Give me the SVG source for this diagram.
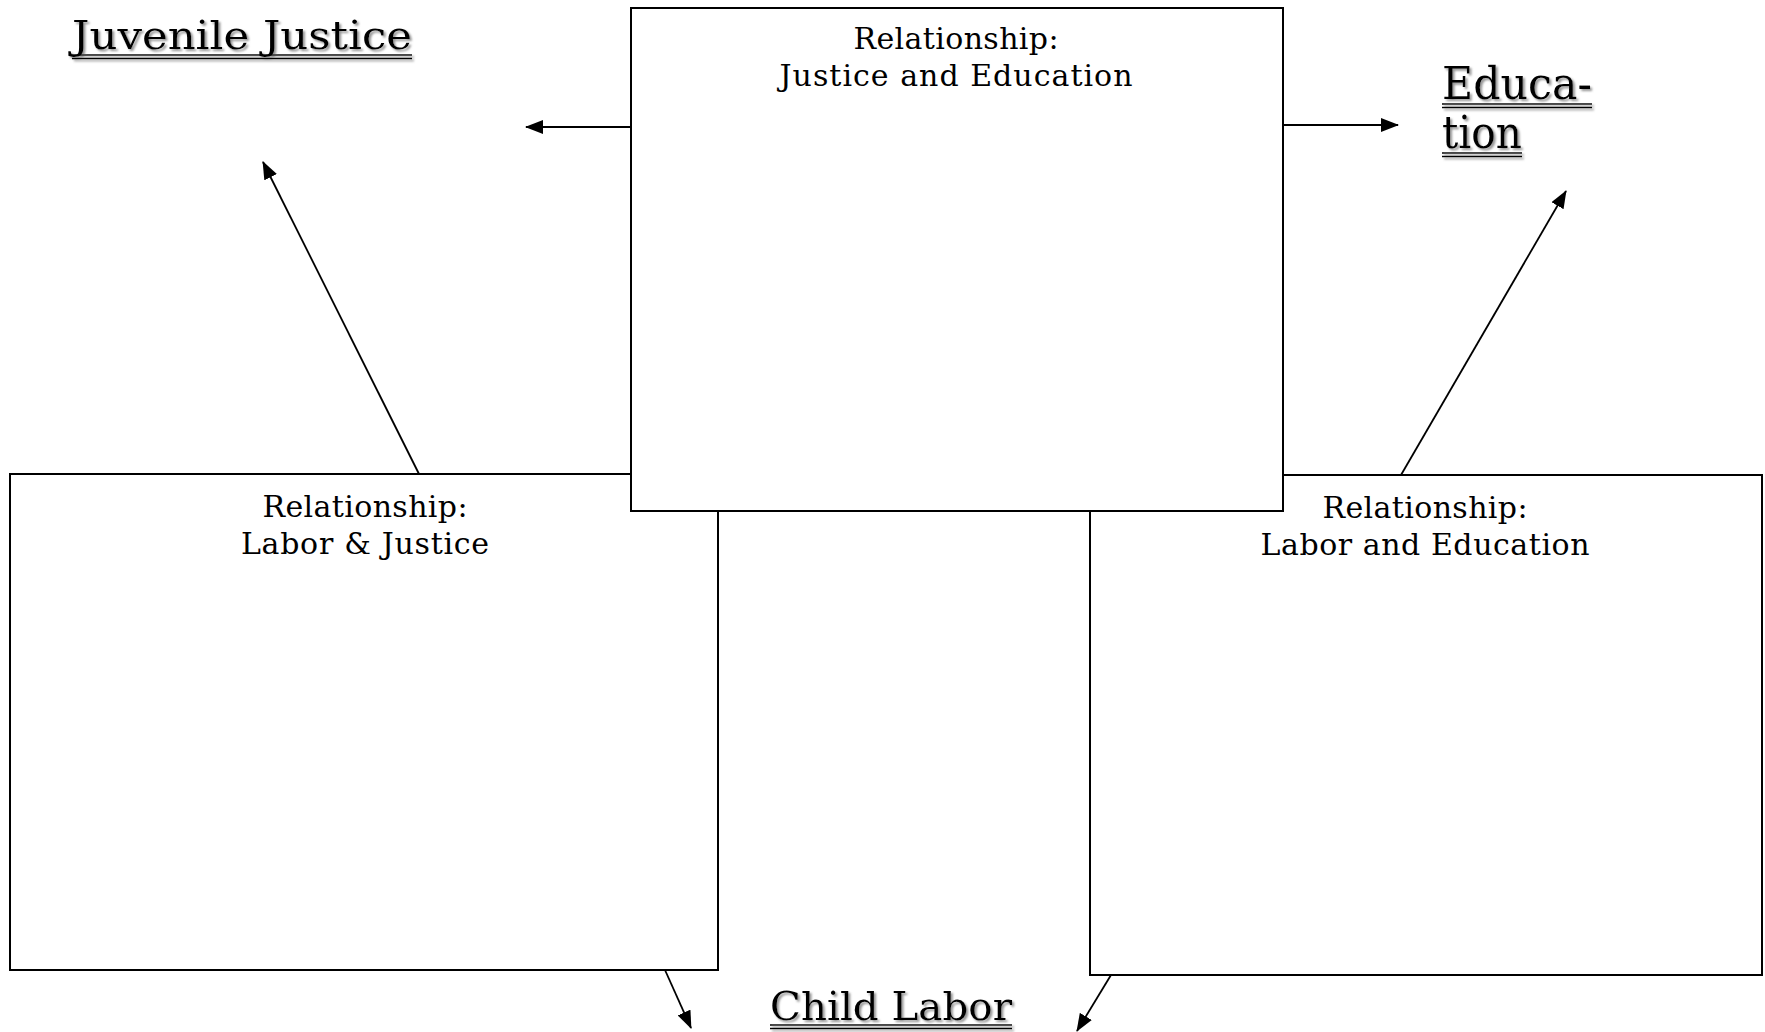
<svg xmlns="http://www.w3.org/2000/svg" width="1765" height="1032" viewBox="0 0 1765 1032">
<style>
.box{fill:#fff;stroke:#000;stroke-width:2}
.lbl{font-family:"DejaVu Serif","Liberation Serif",serif;font-size:30px;fill:#000;text-anchor:middle}
.ttl{font-family:"DejaVu Serif","Liberation Serif",serif;fill:#000}
.ul{stroke:#000;stroke-width:1.6}
.con{stroke:#000;stroke-width:1.8;fill:none;marker-end:url(#ah)}
</style>
<defs>
<marker id="ah" viewBox="0 0 18 14" refX="17" refY="7" markerWidth="18" markerHeight="14" markerUnits="userSpaceOnUse" orient="auto">
<path d="M0,0 L18,7 L0,14 z" fill="#000"/>
</marker>
<filter id="sh" x="-5%" y="-20%" width="115%" height="160%">
<feDropShadow dx="2" dy="2" stdDeviation="0.8" flood-color="#888" flood-opacity="0.9"/>
</filter>
</defs>
<rect width="1765" height="1032" fill="#fff"/>
<g id="node-labor-justice">
<rect class="box" x="10" y="474" width="708" height="496"/>
<text class="lbl" x="365" y="517" textLength="205">Relationship:</text>
<text class="lbl" x="365" y="554" textLength="248">Labor &amp; Justice</text>
</g>
<g id="node-labor-education">
<rect class="box" x="1090" y="475" width="672" height="500"/>
<text class="lbl" x="1425" y="518" textLength="205">Relationship:</text>
<text class="lbl" x="1425" y="555" textLength="329">Labor and Education</text>
</g>
<g id="node-justice-education">
<rect class="box" x="631" y="8" width="652" height="503"/>
<text class="lbl" x="956" y="49" textLength="205">Relationship:</text>
<text class="lbl" x="956" y="86" textLength="353">Justice and Education</text>
</g>
<g id="node-juvenile-justice" filter="url(#sh)">
<text class="ttl" x="72" y="49" font-size="39" textLength="340" lengthAdjust="spacingAndGlyphs">Juvenile Justice</text>
<line class="ul" x1="72" y1="55" x2="412" y2="55"/>
<line class="ul" x1="72" y1="58.5" x2="412" y2="58.5"/>
</g>
<g id="node-education" filter="url(#sh)">
<text class="ttl" x="1442" y="99" font-size="44" textLength="150" lengthAdjust="spacingAndGlyphs">Educa-</text>
<line class="ul" x1="1442" y1="104" x2="1592" y2="104"/>
<line class="ul" x1="1442" y1="107.5" x2="1592" y2="107.5"/>
<text class="ttl" x="1442" y="148" font-size="44" textLength="80" lengthAdjust="spacingAndGlyphs">tion</text>
<line class="ul" x1="1442" y1="153" x2="1522" y2="153"/>
<line class="ul" x1="1442" y1="156.5" x2="1522" y2="156.5"/>
</g>
<g id="node-child-labor" filter="url(#sh)">
<text class="ttl" x="770" y="1020" font-size="39" textLength="242" lengthAdjust="spacingAndGlyphs">Child Labor</text>
<line class="ul" x1="770" y1="1025" x2="1012" y2="1025"/>
<line class="ul" x1="770" y1="1028.5" x2="1012" y2="1028.5"/>
</g>
<g id="connectors">
<line class="con" x1="631" y1="127" x2="526" y2="127"/>
<line class="con" x1="1283" y1="125" x2="1398" y2="125"/>
<line class="con" x1="419" y1="474" x2="263" y2="162"/>
<line class="con" x1="1401" y1="475" x2="1566" y2="191"/>
<line class="con" x1="665" y1="970" x2="691" y2="1028"/>
<line class="con" x1="1111" y1="975" x2="1077" y2="1031"/>
</g>
</svg>
